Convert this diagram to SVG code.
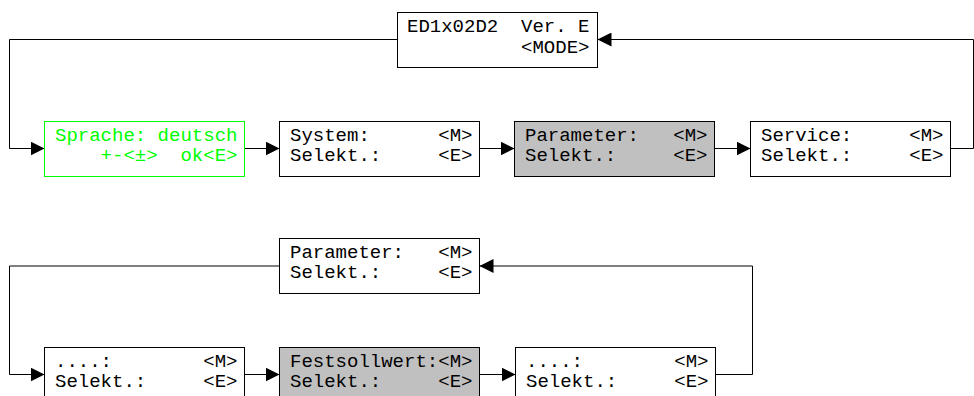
<svg xmlns="http://www.w3.org/2000/svg" width="974" height="396" viewBox="0 0 974 396">
<defs>
<style>
.box{fill:#fff;stroke:#000;stroke-width:1}
.sel{fill:#c0c0c0;stroke:#000;stroke-width:1}
.grn{fill:#fff;stroke:#00ff00;stroke-width:1}
.t{font-family:"Liberation Mono","Courier New",monospace;font-size:19px;fill:#000;white-space:pre}
.tg{fill:#00ff00}
.c{fill:none;stroke:#000;stroke-width:1}
</style>
<marker id="ah" markerUnits="userSpaceOnUse" markerWidth="14" markerHeight="14" refX="14" refY="7" orient="auto" viewBox="0 0 14 14">
<path d="M0,0 L14,7 L0,14 Z" fill="#000"/>
</marker>
</defs>
<g id="connectors">
<polyline class="c" points="397.5,39.5 9.5,39.5 9.5,148.5 44.5,148.5" marker-end="url(#ah)"/>
<line class="c" x1="244.5" y1="148.5" x2="279.5" y2="148.5" marker-end="url(#ah)"/>
<line class="c" x1="479.5" y1="148.5" x2="514.5" y2="148.5" marker-end="url(#ah)"/>
<line class="c" x1="714.5" y1="148.5" x2="750.5" y2="148.5" marker-end="url(#ah)"/>
<polyline class="c" points="950.5,148.5 973.5,148.5 973.5,39.5 597.5,39.5" marker-end="url(#ah)"/>
<polyline class="c" points="279.5,266 9.5,266 9.5,374.5 44.5,374.5" marker-end="url(#ah)"/>
<line class="c" x1="244.5" y1="374.5" x2="279.5" y2="374.5" marker-end="url(#ah)"/>
<line class="c" x1="479.5" y1="374.5" x2="515.5" y2="374.5" marker-end="url(#ah)"/>
<polyline class="c" points="715.5,374.5 752.5,374.5 752.5,266 479.5,266" marker-end="url(#ah)"/>
</g>
<g id="n_top">
<rect class="box" x="397.5" y="12.5" width="200" height="55"/>
<text class="t" xml:space="preserve" x="407" y="32">ED1x02D2  Ver. E</text>
<text class="t" xml:space="preserve" x="407" y="53">          &lt;MODE&gt;</text>
</g>
<g id="n_sprache">
<rect class="grn" x="44.5" y="121.5" width="200" height="55"/>
<text class="t tg" xml:space="preserve" x="55" y="141">Sprache: deutsch</text>
<text class="t tg" xml:space="preserve" x="55" y="161">    +-&lt;±&gt;  ok&lt;E&gt;</text>
</g>
<g id="n_system">
<rect class="box" x="279.5" y="121.5" width="200" height="55"/>
<text class="t" xml:space="preserve" x="290" y="141">System:      &lt;M&gt;</text>
<text class="t" xml:space="preserve" x="290" y="161">Selekt.:     &lt;E&gt;</text>
</g>
<g id="n_parameter">
<rect class="sel" x="514.5" y="121.5" width="200" height="55"/>
<text class="t" xml:space="preserve" x="525" y="141">Parameter:   &lt;M&gt;</text>
<text class="t" xml:space="preserve" x="525" y="161">Selekt.:     &lt;E&gt;</text>
</g>
<g id="n_service">
<rect class="box" x="750.5" y="121.5" width="200" height="55"/>
<text class="t" xml:space="preserve" x="761" y="141">Service:     &lt;M&gt;</text>
<text class="t" xml:space="preserve" x="761" y="161">Selekt.:     &lt;E&gt;</text>
</g>
<g id="n_parameter2">
<rect class="box" x="279.5" y="238.5" width="200" height="55"/>
<text class="t" xml:space="preserve" x="290" y="258">Parameter:   &lt;M&gt;</text>
<text class="t" xml:space="preserve" x="290" y="278">Selekt.:     &lt;E&gt;</text>
</g>
<g id="n_dots1">
<rect class="box" x="44.5" y="347.5" width="200" height="55"/>
<text class="t" xml:space="preserve" x="55" y="367">....:        &lt;M&gt;</text>
<text class="t" xml:space="preserve" x="55" y="387">Selekt.:     &lt;E&gt;</text>
</g>
<g id="n_festsollwert">
<rect class="sel" x="279.5" y="347.5" width="200" height="55"/>
<text class="t" xml:space="preserve" x="290" y="367">Festsollwert:&lt;M&gt;</text>
<text class="t" xml:space="preserve" x="290" y="387">Selekt.:     &lt;E&gt;</text>
</g>
<g id="n_dots2">
<rect class="box" x="515.5" y="347.5" width="200" height="55"/>
<text class="t" xml:space="preserve" x="526" y="367">....:        &lt;M&gt;</text>
<text class="t" xml:space="preserve" x="526" y="387">Selekt.:     &lt;E&gt;</text>
</g>
</svg>
